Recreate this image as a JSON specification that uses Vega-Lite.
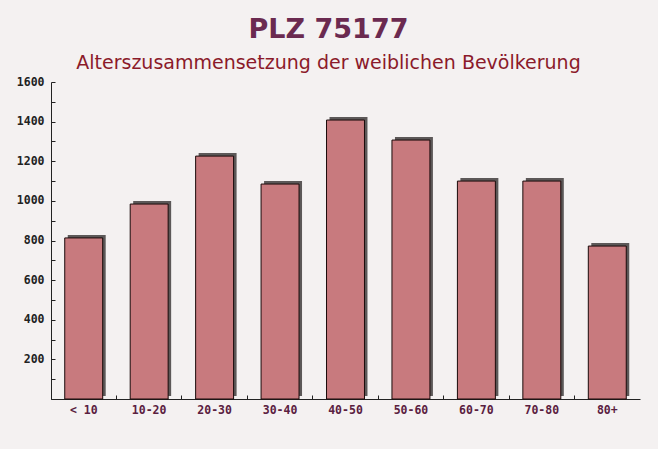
{
  "$schema": "https://vega.github.io/schema/vega-lite/v6.json",
  "width": 589,
  "height": 317,
  "autosize": "none",
  "padding": {"left": 51, "top": 82, "right": 18, "bottom": 50},
  "background": "#f4f1f1",
  "title": {
    "text": "PLZ 75177",
    "subtitle": "Alterszusammensetzung der weiblichen Bevölkerung",
    "anchor": "middle",
    "dx": -17,
    "offset": 2,
    "font": "DejaVu Sans",
    "fontSize": 27,
    "fontWeight": "bold",
    "color": "#6b2a50",
    "subtitleFont": "DejaVu Sans",
    "subtitleFontSize": 19,
    "subtitleColor": "#8b1a2a",
    "subtitlePadding": 10
  },
  "data": {
    "values": [
      {"Altersgruppe": "< 10", "Anzahl": 813},
      {"Altersgruppe": "10-20", "Anzahl": 984},
      {"Altersgruppe": "20-30", "Anzahl": 1226},
      {"Altersgruppe": "30-40", "Anzahl": 1085},
      {"Altersgruppe": "40-50", "Anzahl": 1408},
      {"Altersgruppe": "50-60", "Anzahl": 1307},
      {"Altersgruppe": "60-70", "Anzahl": 1100},
      {"Altersgruppe": "70-80", "Anzahl": 1100},
      {"Altersgruppe": "80+", "Anzahl": 772}
    ]
  },
  "encoding": {
    "x": {
      "field": "Altersgruppe",
      "type": "nominal",
      "sort": null,
      "scale": {"paddingInner": 0, "paddingOuter": 0},
      "axis": {
        "title": null,
        "labelAngle": 0,
        "labelFont": "DejaVu Sans Mono",
        "labelFontWeight": "bold",
        "labelFontSize": 11.5,
        "labelColor": "#5a2040",
        "labelPadding": 9,
        "domainColor": "#222",
        "tickColor": "#222",
        "tickSize": -4,
        "bandPosition": 0,
        "grid": false
      }
    },
    "y": {
      "field": "Anzahl",
      "type": "quantitative",
      "scale": {"domain": [0, 1600], "nice": false},
      "axis": {
        "title": null,
        "values": [0, 100, 200, 300, 400, 500, 600, 700, 800, 900, 1000, 1100, 1200, 1300, 1400, 1500, 1600],
        "labelExpr": "datum.value == 0 || datum.value % 200 != 0 ? '' : datum.label",
        "format": "d",
        "labelFont": "DejaVu Sans Mono",
        "labelFontWeight": "bold",
        "labelFontSize": 11.5,
        "labelColor": "#222",
        "labelPadding": 11,
        "domainColor": "#222",
        "tickColor": "#222",
        "tickSize": -4,
        "grid": false
      }
    }
  },
  "layer": [
    {
      "mark": {"type": "bar", "width": {"band": 0.58}, "xOffset": 3, "yOffset": -3, "color": "#5c5858"}
    },
    {
      "mark": {"type": "bar", "width": {"band": 0.58}, "color": "#c87a7e", "stroke": "#1a0a0a", "strokeWidth": 1}
    }
  ],
  "config": {"view": {"stroke": null}}
}
